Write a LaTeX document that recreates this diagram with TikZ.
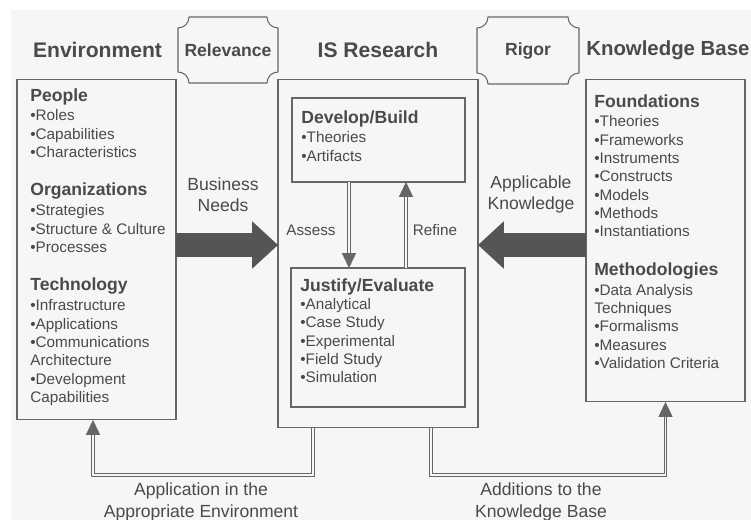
\documentclass[tikz,border=0pt]{standalone}
\usepackage{fontspec}
\setmainfont{Liberation Sans}
\usepackage{tikz}
\usetikzlibrary{arrows.meta}
\definecolor{ink}{HTML}{4A4A4A}
\definecolor{rule}{HTML}{666666}
\definecolor{bulk}{HTML}{555555}
\definecolor{paper}{HTML}{F6F6F6}
\newcommand{\grp}[1]{{\fontsize{10}{12}\selectfont\bfseries #1}}
\newcommand{\tagframe}[1]{\draw[draw=rule,line width=0.6pt]
	([xshift=2.2mm]#1.north west) -- ([xshift=-2.2mm]#1.north east) arc[start angle=180,end angle=270,radius=2.2mm]
	-- ([yshift=2.2mm]#1.south east) arc[start angle=90,end angle=180,radius=2.2mm]
	-- ([xshift=2.2mm]#1.south west) arc[start angle=0,end angle=90,radius=2.2mm]
	-- ([yshift=-2.2mm]#1.north west) arc[start angle=270,end angle=360,radius=2.2mm] -- cycle;}

\begin{document}
\begin{tikzpicture}[x=0.02cm,y=-0.02cm,
	box/.style={draw=rule,line width=0.6pt,rectangle,outer sep=0pt,inner sep=0pt},
	list/.style={text=ink,align=left,anchor=north west,inner sep=0pt,font=\fontsize{8.7}{10.43}\selectfont},
	head/.style={text=ink,font=\fontsize{12}{14}\selectfont\bfseries},
	tag/.style={text=ink,minimum width=2cm,minimum height=1.32cm,outer sep=0pt,font=\fontsize{10}{12}\selectfont\bfseries},
	lbl/.style={text=ink,align=center,font=\fontsize{10}{12.2}\selectfont},
	small/.style={text=ink,font=\fontsize{8.7}{10.4}\selectfont},
	big/.style={draw=bulk,line width=13.6pt,-{Triangle[length=14.7pt,width=26pt]}},
	flow/.style={draw=rule,double=paper,double distance=0.8pt,line width=0.5pt,-{Triangle[length=8.5pt,width=8pt]}}]
	\useasboundingbox (0,0) rectangle (751,520);
	\fill[paper] (11,10) rectangle (751,520);

	\node[head] (envhead) at (97.5,50) {Environment};
	\node[head] (ishead) at (378,50) {IS Research};
	\node[head,anchor=west,inner sep=0pt,font=\fontsize{11.6}{14}\selectfont\bfseries] (kbhead) at (586,50) {Knowledge Base};
	\node[tag] (rel) at (228,50) {Relevance};
	\node[tag,minimum width=2.04cm,minimum height=1.34cm] (rig) at (528,50.5) {Rigor};
	\tagframe{rel}
	\tagframe{rig}

	\node[box,minimum width=3.18cm,minimum height=6.82cm] (env) at (96.5,249.5) {};
	\node[box,minimum width=4cm,minimum height=6.98cm] (is) at (378,253.5) {};
	\node[box,minimum width=3.46cm,minimum height=1.68cm] (dev) at (378.5,140) {};
	\node[box,minimum width=3.48cm,minimum height=2.78cm] (jus) at (378,337.5) {};
	\node[box,minimum width=3.18cm,minimum height=6.46cm] (kb) at (665.5,240.5) {};

	\node[list] (envlist) at (30,88) {\grp{People}\\[0.9pt]
		•Roles\\ •Capabilities\\ •Characteristics\\[11.4pt]
		\grp{Organizations}\\[0.9pt]
		•Strategies\\ •Structure \& Culture\\ •Processes\\[11.4pt]
		\grp{Technology}\\[0.9pt]
		•Infrastructure\\ •Applications\\ •Communications\\ Architecture\\ •Development\\ Capabilities};
	\node[list] (devlist) at (301,110) {\grp{Develop/Build}\\[0.9pt] •Theories\\ •Artifacts};
	\node[list] (juslist) at (300,278) {\grp{Justify/Evaluate}\\
		•Analytical\\ •Case Study\\ •Experimental\\ •Field Study\\ •Simulation};
	\node[list] (kblist) at (594,94) {\grp{Foundations}\\[0.9pt]
		•Theories\\ •Frameworks\\ •Instruments\\ •Constructs\\ •Models\\ •Methods\\ •Instantiations\\[11.4pt]
		\grp{Methodologies}\\[0.9pt]
		•Data Analysis\\ Techniques\\ •Formalisms\\ •Measures\\ •Validation Criteria};

	\node[lbl] (needs) at (223,194.5) {Business\\Needs};
	\node[lbl] (applic) at (531,194.5) {Applicable\\Knowledge};
	\node[small] (assess) at (311,230) {Assess};
	\node[small] (refine) at (435,230) {Refine};
	\node[lbl] (apply) at (201,502) {Application in the\\Appropriate Environment};
	\node[lbl] (adds) at (541,502) {Additions to the\\Knowledge Base};

	\coordinate (row) at (0,245);
	\draw[big] (env.east |- row) -- (is.west |- row);
	\draw[big] (kb.west |- row) -- (is.east |- row);
	\draw[flow] ([xshift=-5.9mm]dev.south) -- ([xshift=-5.9mm]dev.south |- jus.north);
	\draw[flow] ([xshift=5.5mm]dev.south |- jus.north) -- ([xshift=5.5mm]dev.south);
	\draw[flow] ([xshift=7mm]is.south west) -- ++(0,47) -| ([xshift=-0.7mm]env.south);
	\draw[flow] ([xshift=-9.4mm]is.south east) -- ++(0,47) -| (kb.south);
\end{tikzpicture}
\end{document}
